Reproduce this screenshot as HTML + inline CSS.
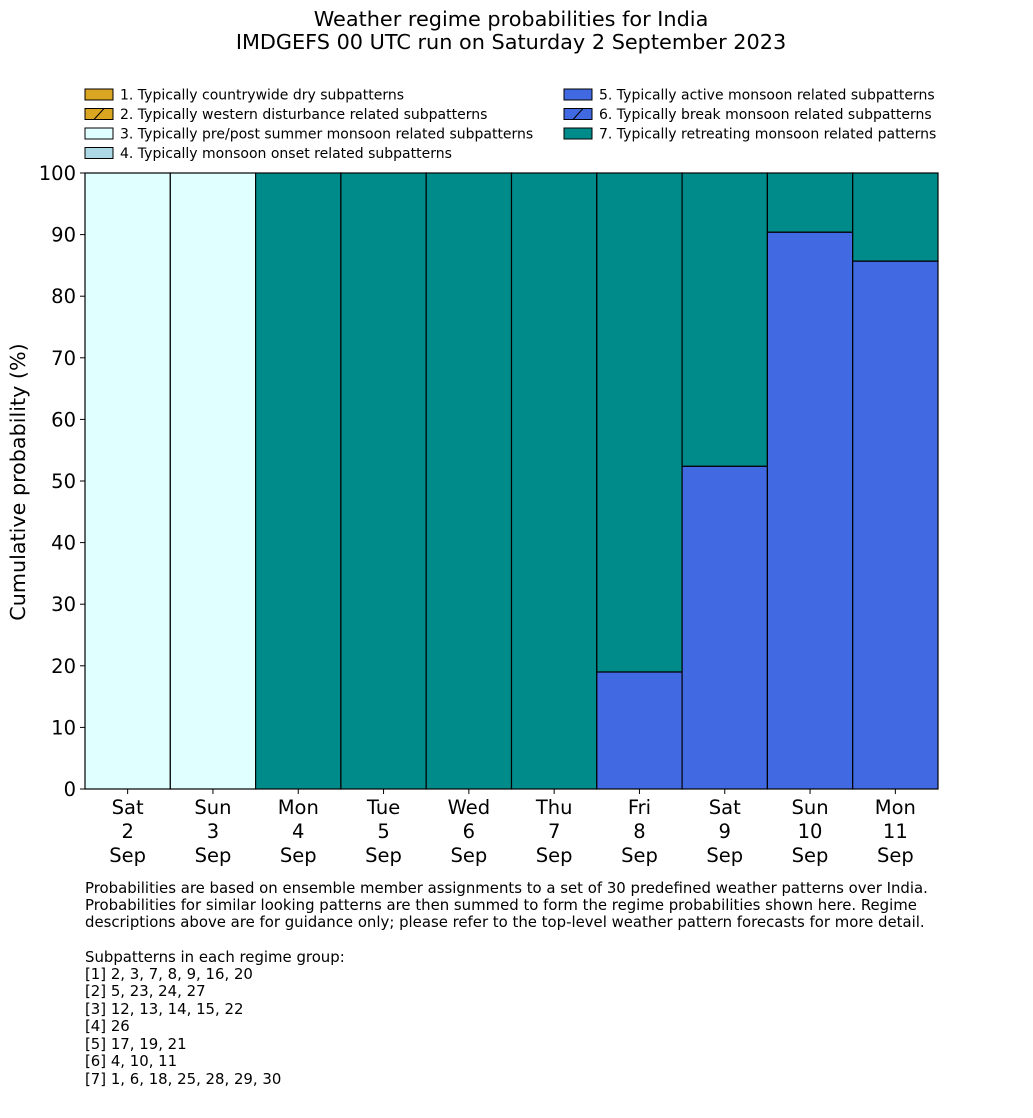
<!DOCTYPE html>
<html><head><meta charset="utf-8"><style>
body{margin:0;background:#fff;font-family:"DejaVu Sans","Liberation Sans",sans-serif;}
</style></head><body>
<svg id="chart" width="1033" height="1114" viewBox="0 0 1033 1114" xmlns="http://www.w3.org/2000/svg" font-family="DejaVu Sans, Liberation Sans, sans-serif">
<text x="511" y="26" font-size="20.8" text-anchor="middle">Weather regime probabilities for India</text>
<text x="511" y="49" font-size="20.8" text-anchor="middle">IMDGEFS 00 UTC run on Saturday 2 September 2023</text>
<defs>
<pattern id="hatch" patternUnits="userSpaceOnUse" width="10" height="10"><path d="M0,10 L10,0" stroke="#000" stroke-width="1"/></pattern>
</defs>
<g id="legend"></g>
<g id="bars"></g>
<g id="axes"></g>
<text transform="translate(25,482) rotate(-90)" font-size="20.7" text-anchor="middle">Cumulative probability (%)</text>
<g font-size="14.9">
<text x="85" y="893">Probabilities are based on ensemble member assignments to a set of 30 predefined weather patterns over India.</text>
<text x="85" y="910">Probabilities for similar looking patterns are then summed to form the regime probabilities shown here. Regime</text>
<text x="85" y="927">descriptions above are for guidance only; please refer to the top-level weather pattern forecasts for more detail.</text>
<text x="85" y="962">Subpatterns in each regime group:</text>
<text x="85" y="979">[1] 2, 3, 7, 8, 9, 16, 20</text>
<text x="85" y="996">[2] 5, 23, 24, 27</text>
<text x="85" y="1014">[3] 12, 13, 14, 15, 22</text>
<text x="85" y="1031">[4] 26</text>
<text x="85" y="1049">[5] 17, 19, 21</text>
<text x="85" y="1066">[6] 4, 10, 11</text>
<text x="85" y="1084">[7] 1, 6, 18, 25, 28, 29, 30</text>
</g>
</svg>
<script>
const days = ["Sat","Sun","Mon","Tue","Wed","Thu","Fri","Sat","Sun","Mon"];
const dates = ["2","3","4","5","6","7","8","9","10","11"];
const regimeNames = ["1. Typically countrywide dry subpatterns","2. Typically western disturbance related subpatterns","3. Typically pre/post summer monsoon related subpatterns","4. Typically monsoon onset related subpatterns","5. Typically active monsoon related subpatterns","6. Typically break monsoon related subpatterns","7. Typically retreating monsoon related patterns"];
const regimeColors = ["#DAA520","#DAA520","#E0FFFF","#ADD8E6","#4169E1","#4169E1","#008B8B"];
const regimeHatch = [false,true,false,false,false,true,false];
const r1 = [0,0,0,0,0,0,0,0,0,0];
const r2 = [0,0,0,0,0,0,0,0,0,0];
const r3 = [100,100,0,0,0,0,0,0,0,0];
const r4 = [0,0,0,0,0,0,0,0,0,0];
const r5 = [0,0,0,0,0,0,19,52.4,90.4,85.7];
const r6 = [0,0,0,0,0,0,0,0,0,0];
const r7 = [0,0,100,100,100,100,81,47.6,9.6,14.3];
const yTicks = [0,10,20,30,40,50,60,70,80,90,100];
const series=[r1,r2,r3,r4,r5,r6,r7];
const NS="http://www.w3.org/2000/svg";
const X0=85,X1=938,Y0=789,Y1=173;
const bw=(X1-X0)/days.length;
const xs=i=>X0+i*bw;
const ys=v=>Y0-(v/100)*(Y0-Y1);
function mk(tag,attrs,parent){const e=document.createElementNS(NS,tag);for(const k in attrs)e.setAttribute(k,attrs[k]);parent.appendChild(e);return e;}
const bars=document.getElementById('bars');
for(let i=0;i<days.length;i++){
  let cum=0;
  for(let s=0;s<series.length;s++){
    const v=series[s][i]; if(v<=0) continue;
    const r=mk('rect',{x:xs(i),y:ys(cum+v),width:bw,height:ys(cum)-ys(cum+v),fill:regimeColors[s],stroke:'#000','stroke-width':1.2},bars);
    
    
    if(regimeHatch[s]){const h=mk('rect',{x:xs(i),y:ys(cum+v),width:bw,height:ys(cum)-ys(cum+v),fill:'url(#hatch)'},bars);
      
      }
    cum+=v;
  }
}
const axes=document.getElementById('axes');
mk('line',{x1:X0,y1:Y0,x2:X0,y2:Y1,stroke:'#000','stroke-width':1},axes);
mk('line',{x1:X0,y1:Y0,x2:X1,y2:Y0,stroke:'#000','stroke-width':1},axes);
yTicks.forEach(t=>{
  mk('line',{x1:X0-5,y1:ys(t),x2:X0,y2:ys(t),stroke:'#000'},axes);
  const tx=mk('text',{x:X0-9,y:ys(t)+7,'font-size':19.5,'text-anchor':'end'},axes);tx.textContent=t;
  
  
});
days.forEach((d,i)=>{
  const cx=xs(i)+bw/2;
  mk('line',{x1:cx,y1:Y0,x2:cx,y2:Y0+5,stroke:'#000'},axes);
  [d,dates[i],"Sep"].forEach((s,k)=>{const tx=mk('text',{x:cx,y:814+k*24,'font-size':19.5,'text-anchor':'middle'},axes);tx.textContent=s;
    
    });
});
const lg=document.getElementById('legend');
regimeNames.forEach((n,s)=>{
  const col=s<4?0:1,row=s<4?s:s-4;
  const x=col?564:85,y=89+row*19.5;
  const r=mk('rect',{x:x,y:y,width:28,height:11,fill:regimeColors[s],stroke:'#000','stroke-width':1},lg);
  
  
  if(regimeHatch[s]) mk('path',{d:`M${x+9},${y+11} L${x+19},${y}`,stroke:'#000'},lg);
  const t=mk('text',{x:x+35,y:y+10.5,'font-size':14},lg);t.textContent=n;
  
  
});
</script>
</body></html>
